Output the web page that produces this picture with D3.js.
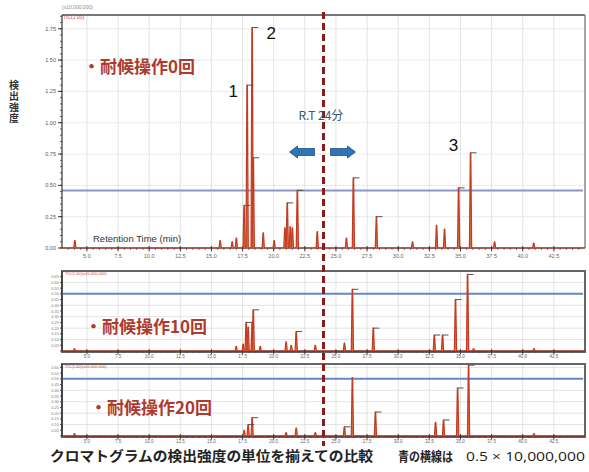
<!DOCTYPE html>
<html><head><meta charset="utf-8">
<script src="https://cdn.jsdelivr.net/npm/d3@7"></script>
<style>body{margin:0;background:#fff}svg{display:block}</style>
</head><body><svg id="c" width="589" height="472"></svg>
<script>
// ---------- data ----------
const xTickValues = [5,7.5,10,12.5,15,17.5,20,22.5,25,27.5,30,32.5,35,37.5,40,42.5];
const xTickLabels = ["5.0","7.5","10.0","12.5","15.0","17.5","20.0","22.5","25.0","27.5","30.0","32.5","35.0","37.5","40.0","42.5"];
const topYTickValues = [0,0.25,0.5,0.75,1,1.25,1.5,1.75];
const topYTickLabels = ["0.00","0.25","0.50","0.75","1.00","1.25","1.50","1.75"];
const panelNames = ["・耐候操作0回","・耐候操作10回","・耐候操作20回"];
const panelYMax = [1.86, 0.70, 0.63];
const blueLevels = [0.46, 0.5, 0.5];
const rtMinutes = 24;
const rtLabel = "R.T 24分";

// retention time (min), intensity (x10,000,000), integration mark flag
const peaks0Time   = [4.03,15.7,16.67,17.0,17.63,17.87,18.27,18.36,19.16,20.04,20.9,21.09,21.33,21.5,21.9,23.5,25.84,26.4,28.25,31.15,33.08,33.72,34.85,35.81,37.74,40.88];
const peaks0Height = [0.06,0.06,0.05,0.08,0.34,1.30,1.76,0.72,0.12,0.06,0.16,0.36,0.17,0.16,0.46,0.13,0.08,0.56,0.25,0.05,0.18,0.15,0.48,0.76,0.05,0.04];
const peaks0Mark   = [0,0,0,0,1,1,1,1,0,0,0,1,0,0,1,0,0,1,1,0,0,0,1,1,0,0];

const peaks10Time   = [4.0,16.99,17.55,17.79,17.95,18.27,18.36,18.92,21.0,21.41,21.81,23.34,25.68,26.32,28.0,32.9,33.56,34.6,35.57,36.05,40.9];
const peaks10Height = [0.02,0.04,0.06,0.25,0.21,0.25,0.36,0.04,0.08,0.05,0.17,0.05,0.07,0.54,0.20,0.14,0.14,0.45,0.67,0.02,0.02];
const peaks10Mark   = [0,0,0,1,0,0,1,0,0,0,1,0,0,1,1,1,1,1,1,0,0];

const peaks20Time   = [4.0,17.63,17.95,18.27,21.0,21.81,23.34,25.68,26.32,28.17,33.0,33.64,34.77,35.65,40.9];
const peaks20Height = [0.02,0.05,0.10,0.16,0.03,0.07,0.03,0.08,0.51,0.21,0.12,0.14,0.42,0.62,0.02];
const peaks20Mark   = [0,0,1,1,0,0,0,1,0,1,0,1,1,1,0];

const peakNumberLabels = ["1","2","3"];
const peakNumberIndex  = [5,6,23];

const captionMain = "クロマトグラムの検出強度の単位を揃えての比較";
const captionBlue = "青の横線は";
const captionValue = "0.5 × 10,000,000";
const yAxisTitle = "検出強度";

// ---------- layout ----------
const svg = d3.select("#c");
const JP = "'Noto Sans CJK JP','Noto Sans',sans-serif";
const X0 = 62, X1 = 585;
const x = d3.scaleLinear().domain([3, 45]).range([X0, X1]);
const panels = [
  {top:15, bottom:248, times:peaks0Time, heights:peaks0Height, marks:peaks0Mark},
  {top:271, bottom:351, times:peaks10Time, heights:peaks10Height, marks:peaks10Mark},
  {top:364, bottom:436, times:peaks20Time, heights:peaks20Height, marks:peaks20Mark}
];
panels.forEach((p,i)=>{ p.y = d3.scaleLinear().domain([0, panelYMax[i]]).range([p.bottom, p.top]); });

const peakColor = "#c23b22", peakFill = "#e0703c";

panels.forEach((p,i)=>{
  const g = svg.append("g");
  const y = p.y;
  // grid
  const gridY = i===0 ? d3.range(0.25, panelYMax[i], 0.25) : d3.range(0.1, panelYMax[i], 0.1);
  g.selectAll(".gy").data(gridY).join("line")
    .attr("x1",X0).attr("x2",X1).attr("y1",d=>y(d)).attr("y2",d=>y(d))
    .attr("stroke","#dcdcdc").attr("stroke-width",0.8).attr("stroke-dasharray", i===0?"3,1":null);
  g.selectAll(".gx").data(xTickValues).join("line")
    .attr("x1",d=>x(d)).attr("x2",d=>x(d)).attr("y1",p.top).attr("y2",p.bottom)
    .attr("stroke","#dcdcdc").attr("stroke-width",0.8);
  // frame
  if (i===0) {
    g.append("line").attr("x1",X0).attr("x2",X1).attr("y1",p.top).attr("y2",p.top).attr("stroke","#777").attr("stroke-width",2);
    g.append("line").attr("x1",X1).attr("x2",X1).attr("y1",p.top).attr("y2",p.bottom).attr("stroke","#888").attr("stroke-width",1.5);
  } else {
    g.append("rect").attr("x",X0).attr("y",p.top).attr("width",X1-X0).attr("height",p.bottom-p.top+1)
      .attr("fill","none").attr("stroke","#666").attr("stroke-width",2);
  }
  // blue reference line
  g.append("line").attr("x1",X0).attr("x2",X1-2).attr("y1",y(blueLevels[i])).attr("y2",y(blueLevels[i]))
    .attr("stroke", i===0?"#8a95c8":"#6688c4").attr("stroke-width",2);
  // left axis
  g.append("line").attr("x1",X0).attr("x2",X0).attr("y1",p.top).attr("y2",p.bottom).attr("stroke","#333").attr("stroke-width",1.2);
  const minorY = d3.range(0, panelYMax[i], 0.05);
  g.selectAll(".my").data(minorY).join("line")
    .attr("x1",X0-2).attr("x2",X0).attr("y1",d=>y(d)).attr("y2",d=>y(d)).attr("stroke","#333").attr("stroke-width",0.8);
  if (i===0) {
    g.selectAll(".ty").data(topYTickValues).join("line")
      .attr("x1",X0-4).attr("x2",X0).attr("y1",d=>y(d)).attr("y2",d=>y(d)).attr("stroke","#333");
    g.selectAll(".tyl").data(topYTickValues).join("text")
      .attr("x",X0-6).attr("y",d=>y(d)+2).attr("text-anchor","end")
      .attr("font-size",5.5).attr("font-family","'Liberation Sans',sans-serif").attr("fill","#555")
      .text((d,k)=>topYTickLabels[k]);
  } else {
    g.selectAll(".tyl").data(minorY.slice(1)).join("text")
      .attr("x",X0-3).attr("y",d=>y(d)+1.5).attr("text-anchor","end")
      .attr("font-size",4).attr("font-family","'Liberation Sans',sans-serif").attr("fill","#777")
      .text(d=>d.toFixed(2));
  }
  // x axis baseline & ticks
  g.append("line").attr("x1",X0).attr("x2",X1).attr("y1",p.bottom).attr("y2",p.bottom).attr("stroke","#8b2a1e").attr("stroke-width",1.4);
  const minorX = d3.range(3.5, 45, 0.5);
  g.selectAll(".mx").data(minorX).join("line")
    .attr("x1",d=>x(d)).attr("x2",d=>x(d)).attr("y1",p.bottom).attr("y2",p.bottom+2).attr("stroke","#444").attr("stroke-width",0.7);
  g.selectAll(".tx").data(xTickValues).join("line")
    .attr("x1",d=>x(d)).attr("x2",d=>x(d)).attr("y1",p.bottom-2).attr("y2",p.bottom+3.5).attr("stroke","#333").attr("stroke-width",0.9);
  g.selectAll(".txl").data(xTickValues).join("text")
    .attr("x",d=>x(d)).attr("y",p.bottom+(i===0?10:7)).attr("text-anchor","middle")
    .attr("font-size",i===0?5.5:4.5).attr("font-family","'Liberation Sans',sans-serif").attr("fill","#666")
    .text((d,k)=>xTickLabels[k]);
  // tiny header text
  if (i===0) {
    g.append("text").attr("x",X0).attr("y",p.top-6).attr("font-size",5).attr("fill","#888")
      .attr("font-family","'Liberation Sans',sans-serif").text("(x10,000,000)");
    g.append("text").attr("x",X0+1).attr("y",p.top+4).attr("font-size",5).attr("fill","#d04a3a")
      .attr("font-family","'Liberation Sans',sans-serif").text("TIC(1.00)");
  } else {
    g.append("text").attr("x",X0+3).attr("y",p.top+4).attr("font-size",4).attr("fill","#d04a3a")
      .attr("font-family","'Liberation Sans',sans-serif").text("TIC(1.00)(x10,000,000)");
  }
  // peaks
  const line = d3.line().x(d=>x(d[0])).y(d=>y(d[1]));
  const pk = p.times.map((t,k)=>({t, h:p.heights[k], m:p.marks[k]}));
  g.selectAll(".pk").data(pk).join("path")
    .attr("d", d=>line([[d.t-0.09,0],[d.t-0.02,d.h],[d.t+0.02,d.h],[d.t+0.09,0]]))
    .attr("fill",peakFill).attr("stroke",peakColor).attr("stroke-width",1.2).attr("stroke-linejoin","round");
  g.selectAll(".mk").data(pk.filter(d=>d.m)).join("line")
    .attr("x1",d=>x(d.t)).attr("x2",d=>x(d.t)+6).attr("y1",d=>y(d.h)).attr("y2",d=>y(d.h))
    .attr("stroke","#555").attr("stroke-width",1);
  // panel label
  const lx = [83, 85, 90][i], ly = [73, 333, 414][i];
  g.append("text").attr("x",lx).attr("y",ly).attr("font-size",17).attr("font-weight",700)
    .attr("font-family",JP).attr("fill","#ad3a2c").text(panelNames[i]);
});

// top panel annotations
const P0 = panels[0];
const numOffsets = [[-14,12],[19,11],[-17,-2]];
peakNumberLabels.forEach((lab,k)=>{
  const idx = peakNumberIndex[k];
  svg.append("text").attr("x", x(peaks0Time[idx])+numOffsets[k][0]).attr("y", P0.y(peaks0Height[idx])+numOffsets[k][1])
    .attr("text-anchor","middle").attr("font-size",17).attr("font-family","'Liberation Sans',Arial,sans-serif")
    .attr("fill","#111").text(lab);
});
svg.append("text").attr("x",93).attr("y",242).attr("font-size",9.5).attr("font-family","'Liberation Sans',Arial,sans-serif")
  .attr("fill","#333").text("Retention Time  (min)");

// RT dashed line
const rx = x(rtMinutes);
svg.append("line").attr("x1",rx).attr("x2",rx).attr("y1",12).attr("y2",446)
  .attr("stroke","#8b1a1a").attr("stroke-width",3).attr("stroke-dasharray","7,4");
svg.append("text").attr("x",rx-25).attr("y",120).attr("font-size",12).attr("font-family",JP)
  .attr("fill","#3a5570").text(rtLabel);
// arrows
function arrow(tipX, dir, yc){
  const L = 25, head = 8;
  const pts = [[tipX,yc],[tipX+dir*head,yc-6],[tipX+dir*head,yc-3.5],[tipX+dir*L,yc-3.5],
               [tipX+dir*L,yc+3.5],[tipX+dir*head,yc+3.5],[tipX+dir*head,yc+6]];
  svg.append("polygon").attr("points",pts.map(p=>p.join(",")).join(" "))
    .attr("fill","#2e75b6").attr("stroke","#1f4e79").attr("stroke-width",0.8);
}
arrow(rx-34, 1, 152);
arrow(rx+32, -1, 152);

// y-axis title (vertical writing)
svg.append("text").attr("x",14).attr("y",80)
  .style("writing-mode","vertical-rl").style("glyph-orientation-vertical","0")
  .attr("font-size",10).attr("font-weight",700).attr("letter-spacing",1)
  .attr("font-family",JP).attr("fill","#333").text(yAxisTitle);

// caption
svg.append("text").attr("x",50).attr("y",461).attr("font-size",14).attr("font-weight",700)
  .attr("font-family",JP).attr("fill","#222").attr("textLength",323).attr("lengthAdjust","spacingAndGlyphs").text(captionMain);
svg.append("text").attr("x",398).attr("y",461).attr("font-size",13).attr("font-weight",700)
  .attr("font-family",JP).attr("fill","#222").attr("textLength",55).attr("lengthAdjust","spacingAndGlyphs").text(captionBlue);
svg.append("text").attr("x",466).attr("y",461).attr("font-size",12)
  .attr("font-family","'Open Sans',sans-serif").attr("fill","#222").attr("textLength",119).attr("lengthAdjust","spacingAndGlyphs").text(captionValue);
</script></body></html>
